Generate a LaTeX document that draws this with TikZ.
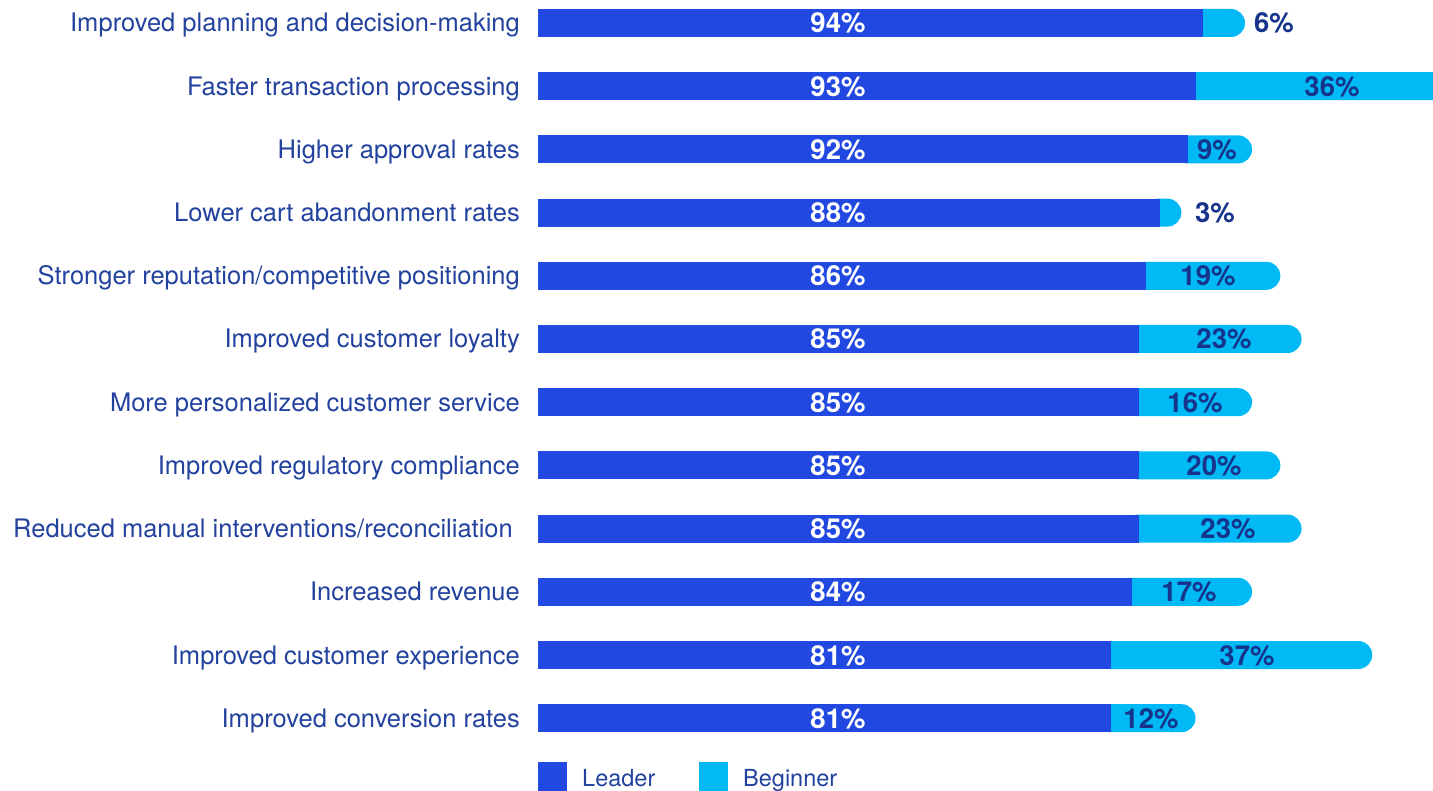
\documentclass[tikz,border=0pt]{standalone}
\usepackage{fontspec}
\setmainfont{TeX Gyre Heros}
\definecolor{leader}{RGB}{33,73,225}
\definecolor{beginner}{RGB}{0,185,245}
\definecolor{catblue}{RGB}{34,66,158}
\definecolor{valblue}{RGB}{22,52,140}
\newcommand{\barx}{538}% left end of bars
\newcommand{\pcw}{7.07}% width of one percent
% #1 name, #2 row centre, #3 label, #4 leader, #5 beginner, #6 centre of beginner value
\newcommand{\benefit}[6]{%
  \pgfmathsetmacro{\leadend}{\barx+\pcw*#4}
  \pgfmathsetmacro{\begend}{\leadend+\pcw*#5}
  \fill[beginner,rounded corners=14pt] (\leadend-15,#2-14) rectangle (\begend,#2+14);
  \fill[leader] (\barx,#2-14) rectangle (\leadend,#2+14);
  \node[cat,anchor=base east] (#1) at (520,#2+9) {#3};
  \node[val,white,anchor=base] (#1L) at (838,#2+10) {#4\%};
  \node[val,valblue,anchor=base] (#1B) at (#6,#2+10) {#5\%};
}

\begin{document}
\begin{tikzpicture}[x=1pt,y=-1pt,
    cat/.style={font=\fontsize{25.5}{30}\selectfont,text=catblue,inner sep=0},
    val/.style={font=\fontsize{27.5}{33}\selectfont\bfseries,inner sep=0},
    key/.style={minimum size=29pt,inner sep=0,anchor=north west}]
        \clip (0,0) rectangle (1433,791);
        \benefit{plan}{23}{Improved planning and decision-making}{94}{6}{1274}
        \benefit{fast}{86.2}{Faster transaction processing}{93}{36}{1332}
        \benefit{appr}{149.4}{Higher approval rates}{92}{9}{1217}
        \benefit{cart}{212.6}{Lower cart abandonment rates}{88}{3}{1215}
        \benefit{repu}{275.8}{Stronger reputation/competitive positioning}{86}{19}{1208}
        \benefit{loya}{339}{Improved customer loyalty}{85}{23}{1224}
        \benefit{pers}{402.2}{More personalized customer service}{85}{16}{1195}
        \benefit{regu}{465.4}{Improved regulatory compliance}{85}{20}{1214}
        \benefit{manu}{528.6}{Reduced manual interventions/reconciliation\kern7pt}{85}{23}{1228}
        \benefit{reve}{591.8}{Increased revenue}{84}{17}{1189}
        \benefit{expe}{655}{Improved customer experience}{81}{37}{1247}
        \benefit{conv}{718.2}{Improved conversion rates}{81}{12}{1151}
        \node[key,fill=leader] (keyL) at (538,762) {};%legend
        \node[cat,anchor=base west,font=\fontsize{23.5}{28}\selectfont] (txtL) at (582,786) {Leader};
        \node[key,fill=beginner] (keyB) at (699,762) {};
        \node[cat,anchor=base west,font=\fontsize{23.5}{28}\selectfont] (txtB) at (743,786) {Beginner};
\end{tikzpicture}
\end{document}
